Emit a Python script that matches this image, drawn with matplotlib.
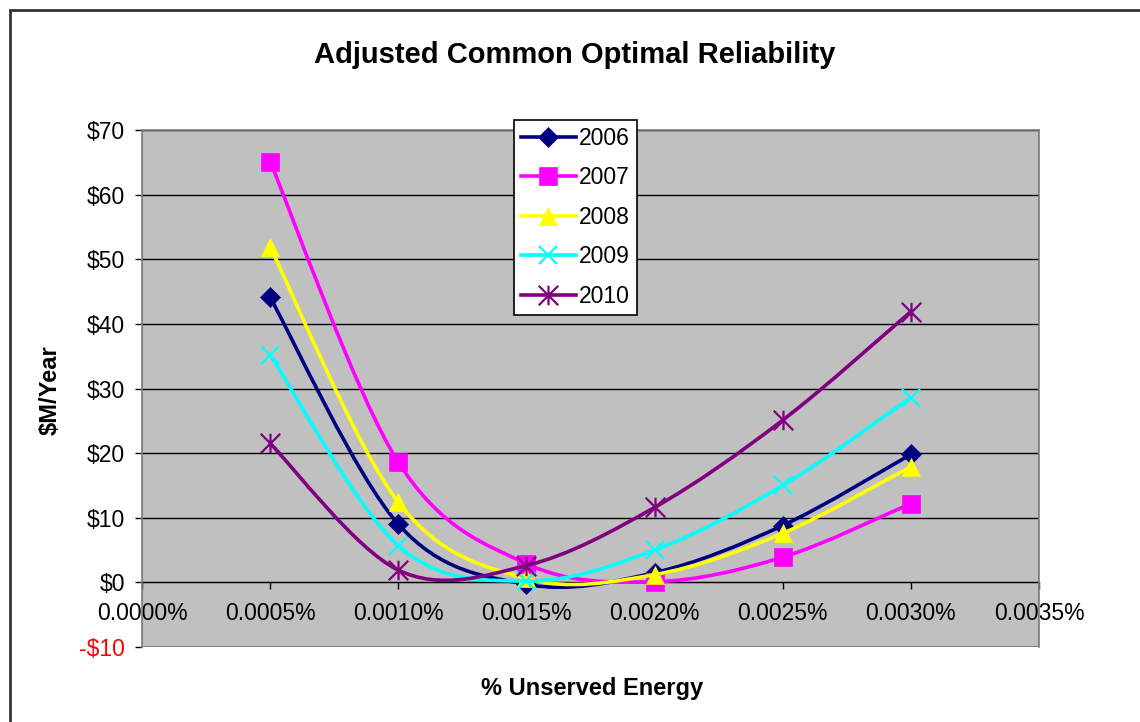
import numpy as np
import matplotlib
matplotlib.use("Agg")
from matplotlib import pyplot as plt
from matplotlib.path import Path
from matplotlib.patches import PathPatch, Rectangle
from matplotlib.lines import Line2D

plt.rcParams['font.family'] = ['Liberation Sans', 'DejaVu Sans']

# dati
x_pct = [0.0005, 0.0010, 0.0015, 0.0020, 0.0025, 0.0030]
anni = ['2006', '2007', '2008', '2009', '2010']
v2006 = [44.1, 9.0, -0.3, 1.5, 8.8, 19.8]
v2007 = [65.1, 18.6, 2.9, 0.1, 3.9, 12.2]
v2008 = [51.9, 12.4, 0.6, 1.2, 7.6, 17.9]
v2009 = [35.2, 5.7, 0.2, 5.0, 15.0, 28.6]
v2010 = [21.5, 1.9, 2.6, 11.6, 25.1, 41.9]
serie = [v2006, v2007, v2008, v2009, v2010]

y_ticks = [-10, 0, 10, 20, 30, 40, 50, 60, 70]
x_ticks = [0.0000, 0.0005, 0.0010, 0.0015, 0.0020, 0.0025, 0.0030, 0.0035]

colori = ['#000080', '#FF00FF', '#FFFF00', '#00FFFF', '#800080']

# asterisco stile excel
asterisco = Path([(-1, -1), (1, 1), (-1, 1), (1, -1), (0, -1), (0, 1)],
                 [Path.MOVETO, Path.LINETO, Path.MOVETO, Path.LINETO, Path.MOVETO, Path.LINETO])
marker = ['D', 's', '^', 'x', asterisco]
msize = [10.5, 13, 13.5, 13, 14]


def curva_smooth(xs, ys):
    # bezier tipo excel (catmull-rom)
    p = list(zip(xs, ys))
    verts = [p[0]]
    codes = [Path.MOVETO]
    n = len(p)
    for i in range(n - 1):
        p0 = p[i - 1] if i > 0 else p[i]
        p1 = p[i]
        p2 = p[i + 1]
        p3 = p[i + 2] if i + 2 < n else p[i + 1]
        c1 = (p1[0] + (p2[0] - p0[0]) / 6, p1[1] + (p2[1] - p0[1]) / 6)
        c2 = (p2[0] - (p3[0] - p1[0]) / 6, p2[1] - (p3[1] - p1[1]) / 6)
        verts += [c1, c2, p2]
        codes += [Path.CURVE4] * 3
    return Path(verts, codes)


fig = plt.figure(figsize=(11.4, 7.22), dpi=100)
W, H = 1140, 722
fig.patches.append(Rectangle((10 / W, -0.1), 1.2, (722 - 10) / H + 0.1, transform=fig.transFigure,
                             facecolor='none', edgecolor='#333333', linewidth=2))

ax = fig.add_axes([142 / W, (H - 647) / H, (1039 - 142) / W, (647 - 130) / H])
ax.set_facecolor('#C0C0C0')
ax.set_xlim(0, 0.0035)
ax.set_ylim(-10, 70)

for s in ['top', 'right', 'left']:
    ax.spines[s].set_color('#808080')
    ax.spines[s].set_linewidth(1.2)
ax.spines['bottom'].set_position(('data', 0))
ax.spines['bottom'].set_color('black')
ax.spines['bottom'].set_zorder(1)
ax.add_patch(Rectangle((0, 0), 1, 1, transform=ax.transAxes, facecolor='none',
                       edgecolor='#808080', linewidth=1.5, zorder=0.5))

for yv in y_ticks[1:]:
    ax.axhline(yv, color='black', linewidth=1.0, zorder=1)

ax.set_yticks(y_ticks)
ax.set_yticklabels(['-$10'] + ['$%d' % v for v in y_ticks[1:]])
ax.get_yticklabels()[0].set_color('red')
ax.set_xticks(x_ticks)
ax.set_xticklabels(['%.4f%%' % v for v in x_ticks])
ax.tick_params(axis='both', labelsize=16.5, direction='out', length=5, width=1, color='black')
ax.tick_params(axis='x', pad=9)
ax.tick_params(axis='y', pad=7)

lw = 2.6
handles = []
for i in range(len(anni)):
    ax.add_patch(PathPatch(curva_smooth(x_pct, serie[i]), facecolor='none', edgecolor=colori[i],
                           linewidth=lw, zorder=3 + i, capstyle='round', joinstyle='round'))
    mfc = colori[i] if i < 3 else 'none'
    ax.plot(x_pct, serie[i], linestyle='none', marker=marker[i], markersize=msize[i],
            markerfacecolor=mfc, markeredgecolor=colori[i], markeredgewidth=1.6 if i >= 3 else 0.5,
            zorder=3.5 + i, clip_on=False)
    handles.append(Line2D([], [], color=colori[i], linewidth=lw, marker=marker[i], markersize=msize[i],
                          markerfacecolor=mfc, markeredgecolor=colori[i],
                          markeredgewidth=1.6 if i >= 3 else 0.5))

leg = ax.legend(handles, anni, loc='upper left', bbox_to_anchor=(514 / W, (H - 120) / H),
                bbox_transform=fig.transFigure, borderaxespad=0, fontsize=16.5,
                fancybox=False, framealpha=1, edgecolor='black', handlelength=2.4,
                handletextpad=0.15, labelspacing=0.72, borderpad=0.3)
leg.get_frame().set_linewidth(1.2)
leg.set_zorder(20)

fig.text(575 / W, (H - 55) / H, 'Adjusted Common Optimal Reliability', ha='center', va='center',
         fontsize=21, fontweight='bold')
fig.text(592 / W, (H - 688) / H, '% Unserved Energy', ha='center', va='center',
         fontsize=17, fontweight='bold')
fig.text(50 / W, (H - 390) / H, '$M/Year', ha='center', va='center', rotation=90,
         fontsize=17, fontweight='bold')

plt.savefig('out.png', dpi=100)
